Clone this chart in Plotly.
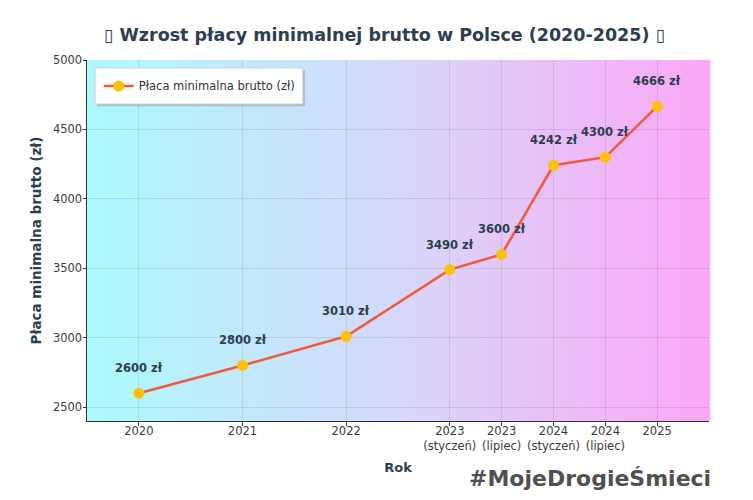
import plotly.graph_objects as go

# Data
x_pos = [2020, 2021, 2022, 2023, 2023.5, 2024, 2024.5, 2025]
tick_labels = ["2020", "2021", "2022", "2023<br>(styczeń)", "2023<br>(lipiec)",
               "2024<br>(styczeń)", "2024<br>(lipiec)", "2025"]
wages = [2600, 2800, 3010, 3490, 3600, 4242, 4300, 4666]
point_labels = [f"{v} zł" for v in wages]

FONT = "DejaVu Sans"
DARK = "#2c3e50"

fig = go.Figure()
fig.add_trace(go.Scatter(
    x=x_pos, y=wages, mode="lines+markers",
    name="Płaca minimalna brutto (zł)",
    line=dict(color="#f05a3c", width=2.5),
    marker=dict(color="#ffc107", size=11),
    text=point_labels, hoverinfo="text",
))

# Value labels above points
for xv, yv, t in zip(x_pos, wages, point_labels):
    fig.add_annotation(x=xv, y=yv, text=f"<b>{t}</b>", showarrow=False,
                       yshift=25, font=dict(family=FONT, size=11.5, color=DARK))

# Background gradient (cyan -> lavender -> pink)
def lerp(c1, c2, t):
    return tuple(round(a + (b - a) * t) for a, b in zip(c1, c2))

c_left = (172, 250, 253)
c_mid = (214, 216, 250)
c_right = (252, 168, 246)
n = 120
shapes = []
for i in range(n):
    t = (i + 0.5) / n
    if t < 0.5:
        c = lerp(c_left, c_mid, t / 0.5)
    else:
        c = lerp(c_mid, c_right, (t - 0.5) / 0.5)
    shapes.append(dict(type="rect", xref="x domain", yref="y domain",
                       x0=i / n, x1=(i + 1) / n + 0.002, y0=0, y1=1,
                       fillcolor=f"rgb{c}", line=dict(width=0), layer="below"))

# Legend box with soft shadow
shapes.append(dict(type="rect", xref="x domain", yref="y domain",
                   x0=0.0161, x1=0.3503, y0=0.872, y1=0.972,
                   fillcolor="rgba(0,0,0,0.18)", line=dict(width=0), layer="above"))
shapes.append(dict(type="rect", xref="x domain", yref="y domain",
                   x0=0.0129, x1=0.347, y0=0.878, y1=0.978,
                   fillcolor="white", line=dict(color="#d0d0d0", width=1), layer="above"))

fig.update_layout(
    width=753, height=500,
    margin=dict(l=79, r=52, t=52, b=87),
    paper_bgcolor="white",
    plot_bgcolor="white",
    shapes=shapes,
    font=dict(family=FONT, color="#444"),
    title=dict(text="<b>▯ Wzrost płacy minimalnej brutto w Polsce (2020-2025) ▯</b>",
               x=0.5, xanchor="center", y=0.946, yanchor="middle",
               font=dict(family=FONT, size=17.5, color=DARK)),
    xaxis=dict(
        range=[2019.5, 2025.5], tickvals=x_pos, ticktext=tick_labels,
        showgrid=True, gridcolor="rgba(0,0,0,0.09)", gridwidth=1,
        showline=True, linecolor="#333", linewidth=1,
        ticks="outside", ticklen=3.5, tickcolor="#333",
        ticklabelstandoff=-4,
        tickfont=dict(family=FONT, size=11.5, color="#3a3a3a"),
        zeroline=False,
        title=dict(text="<b>Rok</b>", font=dict(family=FONT, size=13, color=DARK),
                   standoff=10),
    ),
    yaxis=dict(
        range=[2400, 5000], tickvals=[2500, 3000, 3500, 4000, 4500, 5000],
        showgrid=True, gridcolor="rgba(0,0,0,0.09)", gridwidth=1,
        showline=True, linecolor="#333", linewidth=1,
        ticks="outside", ticklen=3.5, tickcolor="#333",
        ticklabelstandoff=-2,
        tickfont=dict(family=FONT, size=11.5, color="#3a3a3a"),
        zeroline=False,
        title=dict(text="<b>Płaca minimalna brutto (zł)</b>",
                   font=dict(family=FONT, size=13.5, color=DARK), standoff=8),
    ),
    legend=dict(x=0.019, y=0.928, xanchor="left", yanchor="middle",
                bgcolor="rgba(0,0,0,0)", borderwidth=0,
                font=dict(family=FONT, size=11.5, color="#333")),
    showlegend=True,
)

# Watermark
fig.add_annotation(xref="paper", yref="paper", x=1.0064, y=-0.158,
                   xanchor="right", yanchor="middle", showarrow=False,
                   text="<b>#MojeDrogieŚmieci</b>",
                   font=dict(family=FONT, size=22, color="#505050"))

fig.write_html("out.html")
